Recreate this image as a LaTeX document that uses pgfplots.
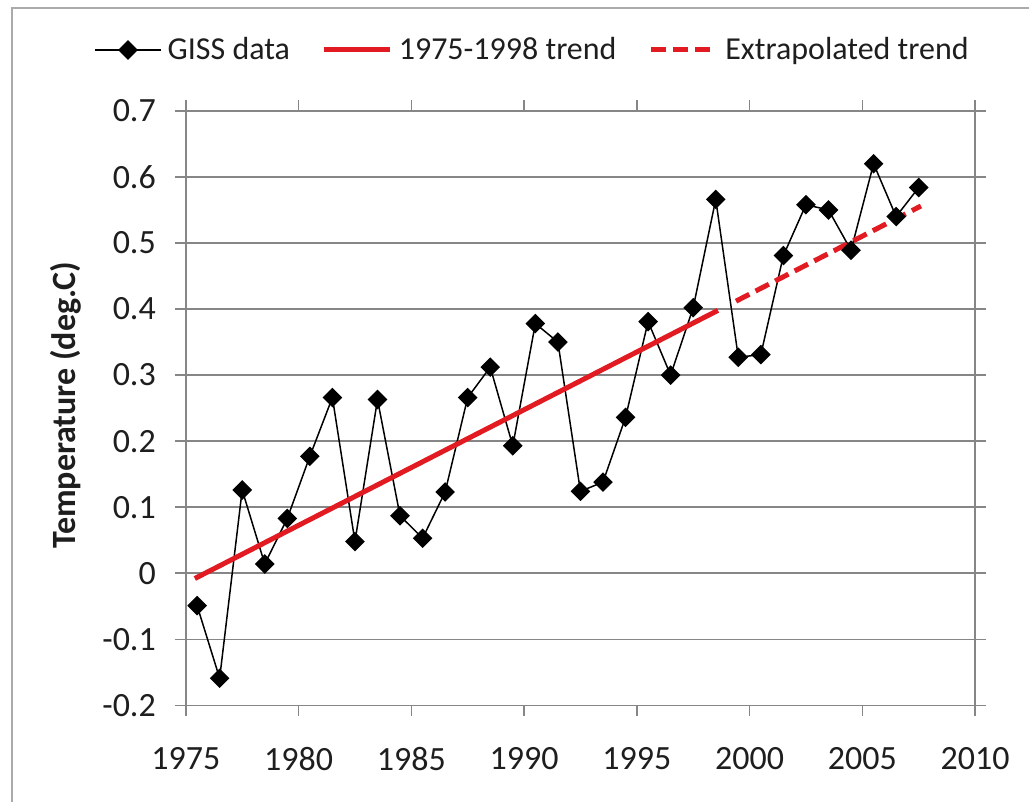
\documentclass[border=0pt]{standalone}
\usepackage{pgfplots}
\pgfplotsset{compat=1.18}
\usepackage{fontspec}
\setmainfont{Carlito}
\definecolor{trendred}{RGB}{226,27,34}
\definecolor{gridgray}{RGB}{134,134,134}
\definecolor{txt}{RGB}{30,30,30}
\pgfplotsset{mylegimg/.style={legend image code/.code={\draw[mark repeat=2,mark phase=2,##1] plot coordinates {(0pt,0pt) (16.5pt,0pt) (33pt,0pt)};}}}
\begin{document}
\begin{tikzpicture}
\path[fill=white] (0,0) rectangle (515pt,401.5pt);
\draw[line width=1pt, color={rgb,255:red,170;green,170;blue,170}] (6pt,0) -- (6pt,397.5pt) -- (515pt,397.5pt);
\begin{axis}[
  at={(93pt,48.5pt)}, anchor=south west,
  scale only axis, width=395pt, height=297.5pt,
  xmin=1975, xmax=2010, ymin=-0.2, ymax=0.7,
  xtick={1975,1980,1985,1990,1995,2000,2005,2010},
  xticklabels={1975,1980,1985,1990,1995,2000,2005,2010},
  ytick={-0.2,-0.1,0,0.1,0.2,0.3,0.4,0.5,0.6,0.7},
  yticklabels={-0.2,-0.1,0,0.1,0.2,0.3,0.4,0.5,0.6,0.7},
  tick align=outside, major tick length=5.5pt,
  tick style={color=gridgray, line width=0.75pt},
  ymajorgrids, grid style={color=gridgray, line width=0.75pt},
  axis line style={color=gridgray, line width=0.75pt},
  tick label style={font=\fontsize{17}{20}\selectfont, color=txt},
  /pgf/number format/assume math mode=true,
  xticklabel style={yshift=-12pt},
  yticklabel style={xshift=-6pt},
  ylabel={Temperature (deg.C)},
  y label style={at={(axis description cs:-0.152,0.505)}, anchor=center, font=\bfseries\fontsize{17}{20}\selectfont, color=txt},
  legend columns=3,
  legend style={draw=none, fill=none, at={(axis description cs:-0.1165,1.1025)}, anchor=west, inner sep=0pt,
    font=\fontsize{16}{19}\selectfont, text=txt,
    /tikz/every even column/.append style={column sep=14pt},
    /tikz/every odd column/.append style={column sep=1pt}},
  mylegimg,
  clip=false,
]
\addplot[black, line width=0.75pt, mark=square*, mark size=3.1pt, mark options={rotate=45, solid, fill=black}] coordinates {
(1975.5,-0.049) (1976.5,-0.159) (1977.5,0.126) (1978.5,0.014) (1979.5,0.083)
(1980.5,0.177) (1981.5,0.266) (1982.5,0.048) (1983.5,0.263) (1984.5,0.087)
(1985.5,0.053) (1986.5,0.123) (1987.5,0.266) (1988.5,0.312) (1989.5,0.193)
(1990.5,0.378) (1991.5,0.350) (1992.5,0.124) (1993.5,0.138) (1994.5,0.236)
(1995.5,0.381) (1996.5,0.300) (1997.5,0.402) (1998.5,0.566) (1999.5,0.327)
(2000.5,0.331) (2001.5,0.481) (2002.5,0.558) (2003.5,0.550) (2004.5,0.489)
(2005.5,0.620) (2006.5,0.540) (2007.5,0.584)
};
\addlegendentry{GISS data}
\addplot[trendred, line width=2.5pt, no marks] coordinates {(1975.4,-0.008) (1998.6,0.398)};
\addlegendentry{1975-1998 trend}
\addplot[trendred, line width=2.5pt, no marks, dash pattern=on 7.5pt off 3.5pt] coordinates {(1999.4,0.412) (2007.6,0.556)};
\addlegendentry{Extrapolated trend}
\end{axis}
\end{tikzpicture}
\end{document}
